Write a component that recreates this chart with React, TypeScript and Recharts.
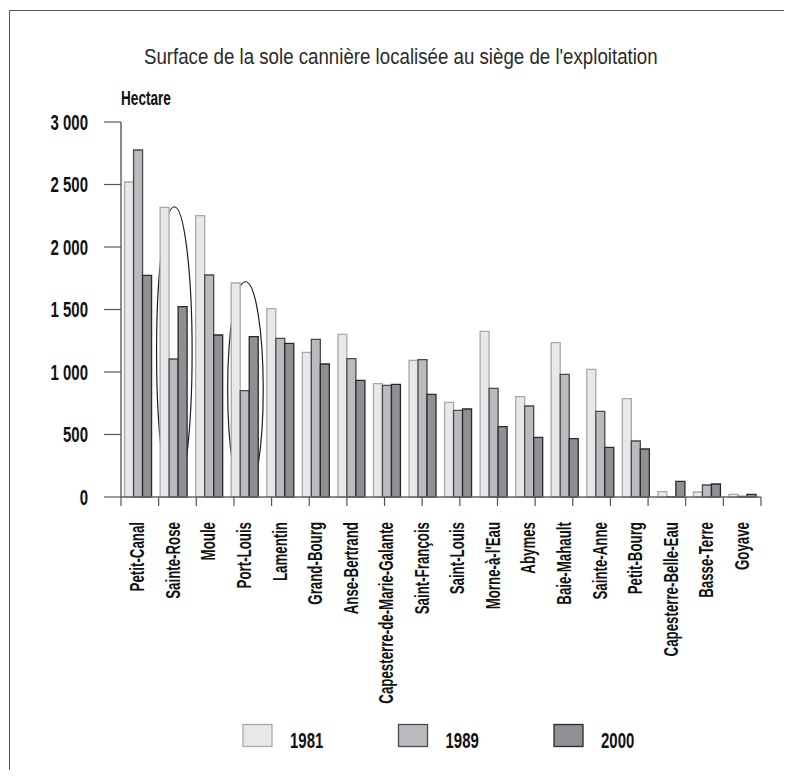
import { BarChart, Bar, XAxis, YAxis, ReferenceArea } from "recharts"

const communes = [
  "Petit-Canal", "Sainte-Rose", "Moule", "Port-Louis", "Lamentin", "Grand-Bourg",
  "Anse-Bertrand", "Capesterre-de-Marie-Galante", "Saint-François", "Saint-Louis",
  "Morne-à-l'Eau", "Abymes", "Baie-Mahault", "Sainte-Anne", "Petit-Bourg",
  "Capesterre-Belle-Eau", "Basse-Terre", "Goyave",
]

const surface1981 = [2520, 2317, 2251, 1712, 1507, 1157, 1301, 907, 1093, 757, 1325, 803, 1235, 1021, 787, 43, 40, 21]
const surface1989 = [2776, 1104, 1776, 851, 1269, 1261, 1107, 893, 1099, 693, 869, 728, 981, 685, 448, 3, 96, 5]
const surface2000 = [1773, 1523, 1296, 1283, 1229, 1064, 933, 901, 821, 704, 563, 477, 467, 397, 384, 125, 104, 21]

const yTicks = [0, 500, 1000, 1500, 2000, 2500, 3000]
const years = ["1981", "1989", "2000"]

// communes entourées sur le graphique (hauteur de l'ellipse en hectares)
const circled = [
  { commune: "Sainte-Rose", top: 2322 },
  { commune: "Port-Louis", top: 1722 },
]

const seriesStyle = [
  { fill: "#e7e8ea", stroke: "#a9a9ab" },
  { fill: "#babbbf", stroke: "#4a4a4c" },
  { fill: "#8f9094", stroke: "#2a2a2c" },
]

const data = communes.map((commune, i) => ({
  commune,
  y1981: surface1981[i],
  y1989: surface1989[i],
  y2000: surface2000[i],
}))

const edgeTicks = communes.map((_, i) => i).concat(communes.length)

const FONT = "'Liberation Sans', Arial, sans-serif"

function formatHa(v: number) {
  if (v < 1000) return String(v)
  return `${Math.floor(v / 1000)} ${String(v % 1000).padStart(3, "0")}`
}

function YTick(props: any) {
  const { x, y, payload } = props
  return (
    <text
      transform={`translate(${x},${y}) scale(0.68,1)`}
      textAnchor="end"
      dy="0.36em"
      fontFamily={FONT}
      fontWeight="bold"
      fontSize={22}
      fill="#111"
    >
      {formatHa(payload.value)}
    </text>
  )
}

function XTick(props: any) {
  const { x, y, payload } = props
  return (
    <text
      transform={`translate(${x + 5.5},${y + 15}) rotate(-90) scale(0.665,1)`}
      textAnchor="end"
      fontFamily={FONT}
      fontWeight="bold"
      fontSize={20}
      fill="#111"
    >
      {payload.value}
    </text>
  )
}

function Ellipse(props: any) {
  const { x, y, width, height } = props
  return (
    <ellipse
      cx={x + width / 2}
      cy={y + height / 2}
      rx={width / 2}
      ry={height / 2}
      fill="none"
      stroke="#1e1e1e"
      strokeWidth={1.2}
    />
  )
}

export default function App() {
  return (
    <div style={{ position: "relative", width: 776, height: 762 }}>
      <div style={{ position: "absolute", left: 1, top: 2, width: 783, borderTop: "1.5px solid #555" }} />
      <div style={{ position: "absolute", left: 1, top: 2, height: 768, borderLeft: "1.5px solid #555" }} />

      <div style={{ position: "absolute", left: 0, top: 0 }}>
        <BarChart
          width={776}
          height={700}
          data={data}
          margin={{ top: 114, right: 23, left: 13, bottom: 51 }}
          barCategoryGap="10%"
          barGap={0}
        >
          <XAxis
            xAxisId="b"
            dataKey="commune"
            interval={0}
            height={150}
            tickSize={0}
            tickMargin={0}
            axisLine={false}
            tickLine={false}
            tick={<XTick />}
          />
          <XAxis
            xAxisId="a"
            type="number"
            domain={[0, communes.length]}
            ticks={edgeTicks}
            interval={0}
            height={10}
            tickSize={9}
            tickFormatter={() => ""}
            axisLine={{ stroke: "#666", strokeWidth: 1.5 }}
            tickLine={{ stroke: "#555", strokeWidth: 1.2 }}
          />
          <YAxis
            domain={[0, 3000]}
            ticks={yTicks}
            interval={0}
            width={100}
            tickSize={17}
            tickMargin={16}
            axisLine={{ stroke: "#666", strokeWidth: 1.5 }}
            tickLine={{ stroke: "#555", strokeWidth: 1.2 }}
            tick={<YTick />}
          />
          {years.map((yr, i) => (
            <Bar
              key={yr}
              xAxisId="b"
              dataKey={`y${yr}`}
              name={yr}
              fill={seriesStyle[i].fill}
              stroke={seriesStyle[i].stroke}
              strokeWidth={1.3}
              isAnimationActive={false}
            />
          ))}
          {circled.map((c) => (
            <ReferenceArea
              key={c.commune}
              xAxisId="b"
              x1={c.commune}
              x2={c.commune}
              y1={0}
              y2={c.top}
              shape={<Ellipse />}
            />
          ))}
        </BarChart>
      </div>

      <svg width={776} height={762} style={{ position: "absolute", left: 0, top: 0, pointerEvents: "none" }}>
        <text
          transform="translate(392.8,56) scale(0.85,1)"
          textAnchor="middle"
          fontFamily={FONT}
          fontSize={22}
          fill="#2a2a2a"
        >
          Surface de la sole cannière localisée au siège de l'exploitation
        </text>
        <text
          transform="translate(113,97) scale(0.68,1)"
          fontFamily={FONT}
          fontWeight="bold"
          fontSize={20}
          fill="#111"
        >
          Hectare
        </text>
        {years.map((yr, i) => {
          const left = 235 + i * 155.5
          return (
            <g key={yr}>
              <rect
                x={left}
                y={716.5}
                width={29}
                height={22}
                fill={seriesStyle[i].fill}
                stroke={seriesStyle[i].stroke}
                strokeWidth={1.3}
              />
              <text
                transform={`translate(${left + 47},739.7) scale(0.68,1)`}
                fontFamily={FONT}
                fontWeight="bold"
                fontSize={22}
                fill="#111"
              >
                {yr}
              </text>
            </g>
          )
        })}
      </svg>
    </div>
  )
}
